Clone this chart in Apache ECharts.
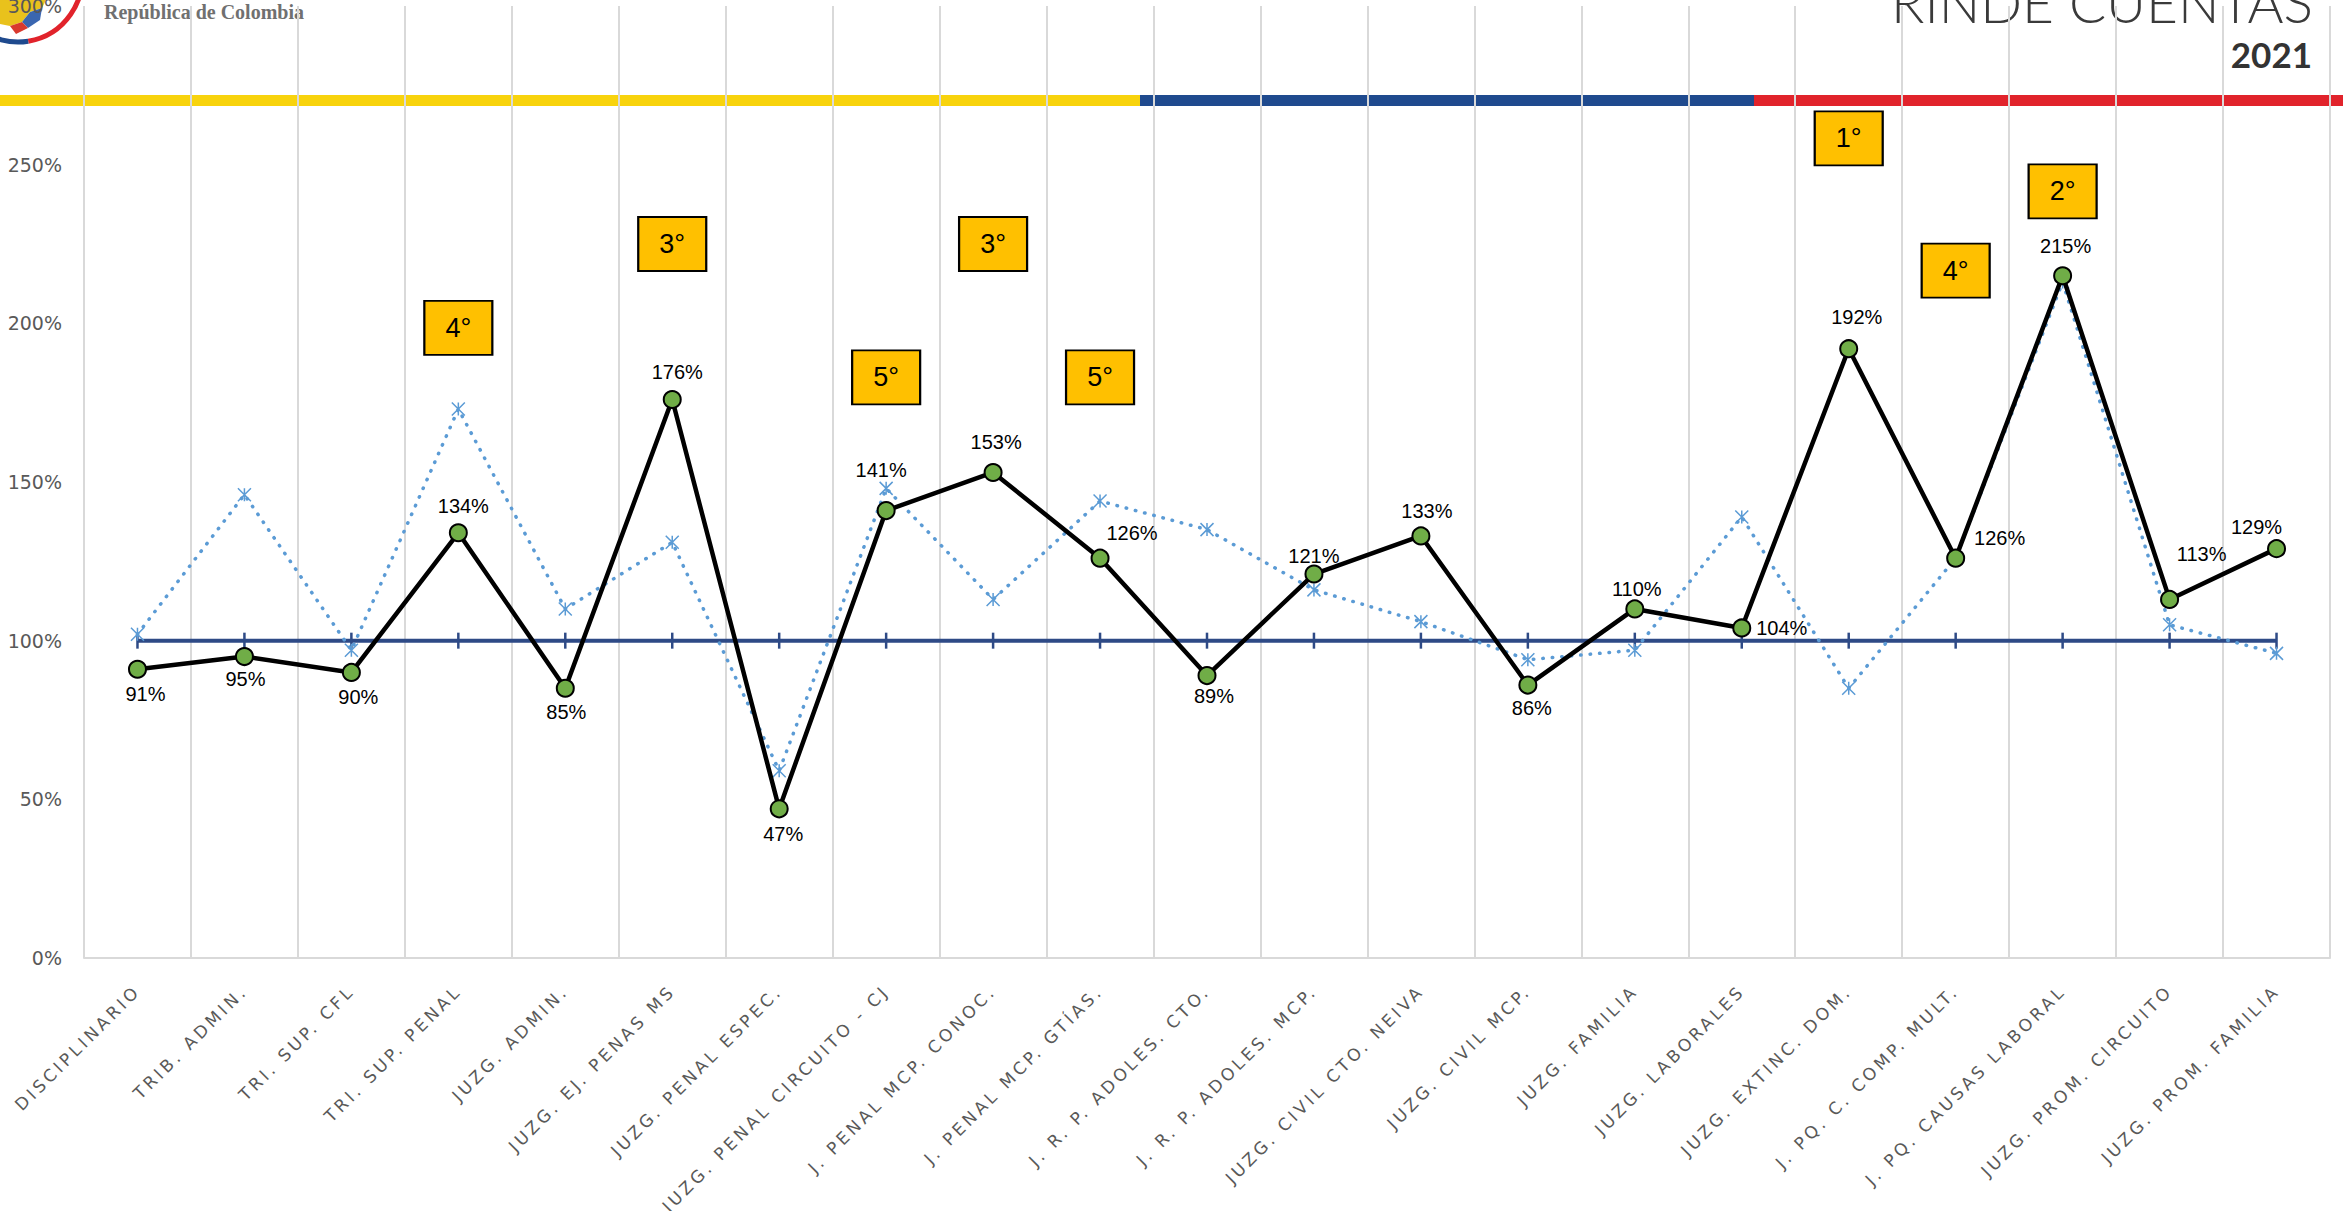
<!DOCTYPE html>
<html><head><meta charset="utf-8">
<script src="https://cdn.jsdelivr.net/npm/echarts@6/dist/echarts.min.js"></script>
<style>
html,body{margin:0;padding:0;background:#fff;overflow:hidden;}
#chart{width:2343px;height:1211px;}
#chart svg text[fill="#595958"]{letter-spacing:3.4px;}
</style></head><body><div id="chart"></div>
<script>
// ---------- DATA ----------
const categories = [
  'DISCIPLINARIO', 'TRIB. ADMIN.', 'TRI. SUP. CFL', 'TRI. SUP. PENAL', 'JUZG. ADMIN.',
  'JUZG. EJ. PENAS MS', 'JUZG. PENAL ESPEC.', 'JUZG. PENAL CIRCUITO - CJ', 'J. PENAL MCP. CONOC.',
  'J. PENAL MCP. GTÍAS.', 'J. R. P. ADOLES. CTO.', 'J. R. P. ADOLES. MCP.', 'JUZG. CIVIL CTO. NEIVA',
  'JUZG. CIVIL MCP.', 'JUZG. FAMILIA', 'JUZG. LABORALES', 'JUZG. EXTINC. DOM.',
  'J. PQ. C. COMP. MULT.', 'J. PQ. CAUSAS LABORAL', 'JUZG. PROM. CIRCUITO', 'JUZG. PROM. FAMILIA'
];
const indicador = [91, 95, 90, 134, 85, 176, 47, 141, 153, 126, 89, 121, 133, 86, 110, 104, 192, 126, 215, 113, 129];
const comparativo = [102, 146, 97, 173, 110, 131, 59, 148, 113, 144, 135, 116, 106, 94, 97, 139, 85, 126, 213, 105, 96];
const meta = [100, 100, 100, 100, 100, 100, 100, 100, 100, 100, 100, 100, 100, 100, 100, 100, 100, 100, 100, 100, 100];
const rankLabels = ['4°', '3°', '5°', '3°', '5°', '1°', '4°', '2°'];
const rankCategory = ['TRI. SUP. PENAL', 'JUZG. EJ. PENAS MS', 'JUZG. PENAL CIRCUITO - CJ', 'J. PENAL MCP. CONOC.',
  'J. PENAL MCP. GTÍAS.', 'JUZG. EXTINC. DOM.', 'J. PQ. C. COMP. MULT.', 'J. PQ. CAUSAS LABORAL'];
const yMin = 0, yMax = 300, yStep = 50;

// ---------- STYLE / PLACEMENT ----------
const labelOffsets = [
  [8, 25], [1, 22], [7, 25], [5, -27], [1, 24], [5, -27], [4, 25], [-5, -41], [3, -30], [32, -25],
  [7, 20], [0, -18], [6, -25], [4, 23], [2, -20], [40, 0], [8, -32], [44, -20], [3, -30], [32, -45], [-20, -22]
];
const rankBoxLevel = [198.6, 225, 183, 225, 183, 258.3, 216.6, 241.6];

const chart = echarts.init(document.getElementById('chart'), null, {renderer: 'svg'});
const navy = '#2E4A86';
const option = {
  backgroundColor: '#ffffff',
  animation: false,
  grid: {left: 84, right: 13, top: 6, bottom: 253, containLabel: false, outerBoundsMode: 'none'},
  xAxis: {
    type: 'category',
    data: categories,
    boundaryGap: true,
    axisLine: {show: true, lineStyle: {color: '#D9D9D9', width: 2}},
    axisTick: {show: false},
    splitLine: {show: true, lineStyle: {color: '#D9D9D9', width: 2}},
    axisLabel: {
      interval: 0, rotate: 45, margin: 30, color: '#595958',
      fontFamily: 'DejaVu Sans', fontSize: 17
    }
  },
  yAxis: {
    type: 'value', min: yMin, max: yMax, interval: yStep,
    axisLine: {show: false}, axisTick: {show: false}, splitLine: {show: false},
    axisLabel: {formatter: '{value}%', color: '#595959', fontFamily: 'DejaVu Sans', fontSize: 19, margin: 22}
  },
  graphic: [
    {type: 'rect', z: -10, shape: {x: 0, y: 95, width: 1140, height: 11}, style: {fill: '#F8D30D'}},
    {type: 'rect', z: -10, shape: {x: 1140, y: 95, width: 614, height: 11}, style: {fill: '#1F4A8E'}},
    {type: 'rect', z: -10, shape: {x: 1754, y: 95, width: 589, height: 11}, style: {fill: '#E1232B'}},
    {type: 'polygon', z: -10, shape: {points: [[0,0],[46,0],[42,8],[30,12],[22,22],[10,26],[0,24]]}, style: {fill: '#E9C21C'}},
    {type: 'polygon', z: -10, shape: {points: [[30,12],[42,8],[40,20],[28,28],[22,22]]}, style: {fill: '#3A66B0'}},
    {type: 'polygon', z: -10, shape: {points: [[10,26],[22,22],[28,28],[16,34]]}, style: {fill: '#D93A2E'}},
    {type: 'arc', shape: {cx: 18, cy: -22, r: 64, startAngle: -0.2, endAngle: 1.41}, style: {stroke: '#E1232B', lineWidth: 5, fill: 'none'}},
    {type: 'arc', shape: {cx: 18, cy: -22, r: 64, startAngle: 1.41, endAngle: 3.2}, style: {stroke: '#1F4A8E', lineWidth: 5, fill: 'none'}},
    {type: 'text', style: {text: 'República de Colombia', x: 104, y: 12, textAlign: 'left', textVerticalAlign: 'middle',
      font: 'bold 20px "Liberation Serif"', fill: '#707070'}},
    {type: 'text', style: {text: 'RINDE CUENTAS', x: 2313, y: 2, textAlign: 'right', textVerticalAlign: 'middle',
      font: '300 55px Lato', fill: '#3a3a3a'}},
    {type: 'text', style: {text: '2021', x: 2312, y: 54, textAlign: 'right', textVerticalAlign: 'middle',
      font: 'bold 35px Lato', fill: '#333333'}}
  ],
  series: [
    {
      name: 'Meta', type: 'line', data: meta, z: 2,
      symbol: 'rect', symbolSize: [2.5, 16],
      itemStyle: {color: navy},
      lineStyle: {color: navy, width: 4}
    },
    {
      name: 'Comparativo', type: 'line', data: comparativo, z: 3,
      symbol: 'path://M0,0L10,10M10,0L0,10M5,0L5,10', symbolSize: 13,
      itemStyle: {color: 'rgba(0,0,0,0)', borderColor: '#5B9BD5', borderWidth: 1.5},
      lineStyle: {color: '#5B9BD5', width: 3.5, type: [0.5, 9], cap: 'round'}
    },
    {
      name: 'Indicador', type: 'line', z: 4,
      data: indicador.map((v, i) => ({value: v, label: {offset: labelOffsets[i]}})),
      symbol: 'circle', symbolSize: 17,
      itemStyle: {color: '#70AD47', borderColor: '#000', borderWidth: 2},
      lineStyle: {color: '#000', width: 4.5},
      label: {show: true, position: 'inside', formatter: '{c}%', color: '#000',
        fontFamily: 'Liberation Sans', fontSize: 20}
    },
    {
      name: 'Ranking', type: 'scatter', z: 5,
      data: rankCategory.map((c, i) => ({name: rankLabels[i], value: [c, rankBoxLevel[i]]})),
      symbol: 'rect', symbolSize: [68, 54],
      itemStyle: {color: '#FFC000', borderColor: '#000', borderWidth: 2, opacity: 1},
      label: {show: true, position: 'inside', formatter: '{b}', color: '#000',
        fontFamily: 'Liberation Sans', fontSize: 27}
    }
  ]
};
chart.setOption(option);
</script></body></html>
